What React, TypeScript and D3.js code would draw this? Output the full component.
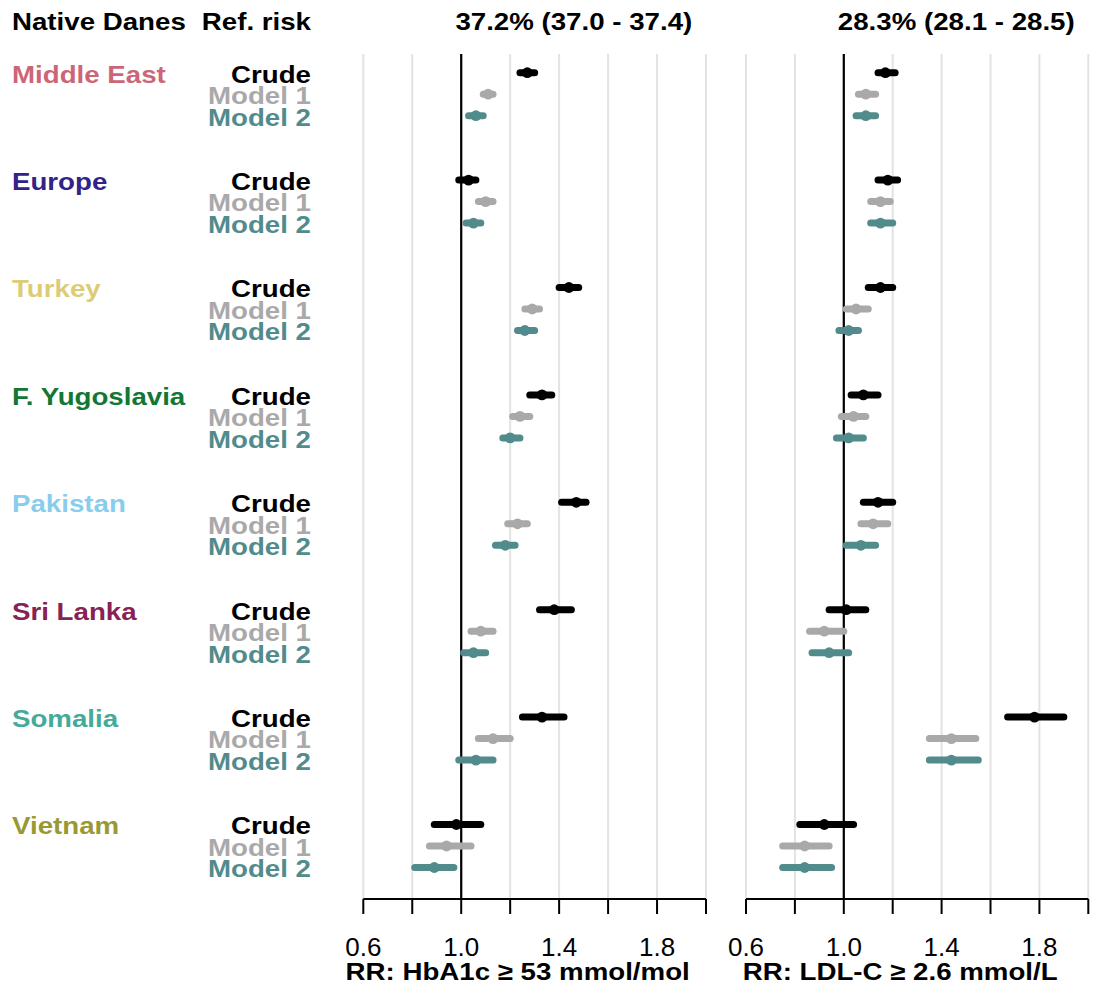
import React from "react";
import * as d3 from "d3";

const countries = ["Middle East", "Europe", "Turkey", "F. Yugoslavia", "Pakistan", "Sri Lanka", "Somalia", "Vietnam"];
const countryColors = ["#CC6677", "#332288", "#DDCC77", "#117733", "#88CCEE", "#882255", "#44AA99", "#999933"];
const models = ["Crude", "Model 1", "Model 2"];
const modelColors = ["#000000", "#A9A9A9", "#528B8B"];

// HbA1c panel: [estimate, lower, upper] per country per model
const hba1c: number[][][] = [
  [[1.27, 1.24, 1.30], [1.11, 1.09, 1.13], [1.06, 1.03, 1.09]],
  [[1.03, 0.99, 1.06], [1.10, 1.07, 1.13], [1.05, 1.02, 1.08]],
  [[1.44, 1.40, 1.48], [1.29, 1.26, 1.32], [1.26, 1.23, 1.30]],
  [[1.33, 1.28, 1.37], [1.24, 1.21, 1.28], [1.20, 1.17, 1.24]],
  [[1.47, 1.41, 1.51], [1.23, 1.19, 1.27], [1.18, 1.14, 1.22]],
  [[1.38, 1.32, 1.45], [1.08, 1.04, 1.13], [1.05, 1.01, 1.10]],
  [[1.33, 1.25, 1.42], [1.13, 1.07, 1.20], [1.06, 0.99, 1.13]],
  [[0.98, 0.89, 1.08], [0.94, 0.87, 1.04], [0.89, 0.81, 0.97]],
];
// LDL-C panel
const ldl: number[][][] = [
  [[1.17, 1.14, 1.21], [1.09, 1.06, 1.13], [1.09, 1.05, 1.13]],
  [[1.18, 1.14, 1.22], [1.15, 1.11, 1.19], [1.15, 1.11, 1.20]],
  [[1.15, 1.10, 1.20], [1.05, 1.01, 1.10], [1.02, 0.98, 1.06]],
  [[1.08, 1.03, 1.14], [1.04, 0.99, 1.09], [1.02, 0.97, 1.08]],
  [[1.14, 1.08, 1.20], [1.12, 1.07, 1.18], [1.07, 1.01, 1.13]],
  [[1.01, 0.94, 1.09], [0.92, 0.86, 1.00], [0.94, 0.87, 1.02]],
  [[1.78, 1.67, 1.90], [1.44, 1.35, 1.54], [1.44, 1.35, 1.55]],
  [[0.92, 0.82, 1.04], [0.84, 0.75, 0.94], [0.84, 0.75, 0.95]],
];

const refRisks = ["37.2% (37.0 - 37.4)", "28.3% (28.1 - 28.5)"];
const axisTitles = ["RR: HbA1c \u2265 53 mmol/mol", "RR: LDL-C \u2265 2.6 mmol/L"];
const gridTicks = [0.6, 0.8, 1.0, 1.2, 1.4, 1.6, 1.8, 2.0];
const labelTicks = [0.6, 1.0, 1.4, 1.8];
const panelData = [hba1c, ldl];

const W = 1097;
const H = 998;
const panelRanges: [number, number][] = [[363.3, 706], [746, 1088.3]];
const plotTop = 54;
const axisY = 899;
const font = "'Liberation Sans', Arial, Helvetica, sans-serif";
const SX = 1.13;
const FS = 24.5;

function T(props: { x: number; y: number; anchor?: string; fill?: string; size?: number; bold?: boolean; sx?: number; children: React.ReactNode }) {
  const { x, y, anchor = "start", fill = "#000", size = FS, bold = true, sx = SX, children } = props;
  return (
    <text
      transform={`translate(${x},${y}) scale(${sx},1)`}
      textAnchor={anchor}
      fill={fill}
      fontSize={size}
      fontWeight={bold ? "bold" : "normal"}
    >
      {children}
    </text>
  );
}

export default function App() {
  const rowY = (g: number, m: number) => 72.7 + g * 107.4 + m * 21.5;
  const labelRight = 311;

  return (
    <svg width={W} height={H} style={{ position: "absolute", left: 0, top: 0, background: "#fff" }} fontFamily={font}>
      <rect x={0} y={0} width={W} height={H} fill="#fff" />
      <T x={12} y={30}>Native Danes</T>
      <T x={labelRight} y={30} anchor="end">Ref. risk</T>

      {countries.map((c, g) => (
        <g key={c}>
          <T x={12} y={rowY(g, 0) + 9.8} fill={countryColors[g]}>{c}</T>
          {models.map((m, mi) => (
            <T key={m} x={labelRight} y={rowY(g, mi) + 9.8} fill={modelColors[mi]} anchor="end">{m}</T>
          ))}
        </g>
      ))}

      {panelData.map((data, p) => {
        const x = d3.scaleLinear().domain([0.6, 2.0]).range(panelRanges[p]);
        const mid = (panelRanges[p][0] + panelRanges[p][1]) / 2;
        return (
          <g key={p}>
            <T x={x(1.46)} y={29.5} anchor="middle">{refRisks[p]}</T>
            {gridTicks.map((t) => (
              <line key={t} x1={x(t)} x2={x(t)} y1={plotTop} y2={axisY} stroke="#E3E3E3" strokeWidth={2} />
            ))}
            <line x1={x(1)} x2={x(1)} y1={plotTop} y2={axisY} stroke="#000" strokeWidth={2.2} />
            {data.map((rows, g) =>
              rows.map((r, mi) => (
                <g key={`${g}-${mi}`}>
                  <line x1={x(r[1])} x2={x(r[2])} y1={rowY(g, mi)} y2={rowY(g, mi)} stroke={modelColors[mi]} strokeWidth={7} strokeLinecap="round" />
                  <circle cx={x(r[0])} cy={rowY(g, mi)} r={5.4} fill={modelColors[mi]} />
                </g>
              ))
            )}
            <line x1={panelRanges[p][0]} x2={panelRanges[p][1]} y1={axisY} y2={axisY} stroke="#000" strokeWidth={2} />
            {gridTicks.map((t) => (
              <line key={"t" + t} x1={x(t)} x2={x(t)} y1={axisY} y2={axisY + 15} stroke="#000" strokeWidth={2} />
            ))}
            {labelTicks.map((t) => (
              <T key={"l" + t} x={x(t)} y={956} anchor="middle" bold={false} size={25.5} sx={1.02}>{d3.format(".1f")(t)}</T>
            ))}
            <T x={mid - 17} y={980} anchor="middle">{axisTitles[p]}</T>
          </g>
        );
      })}
    </svg>
  );
}
